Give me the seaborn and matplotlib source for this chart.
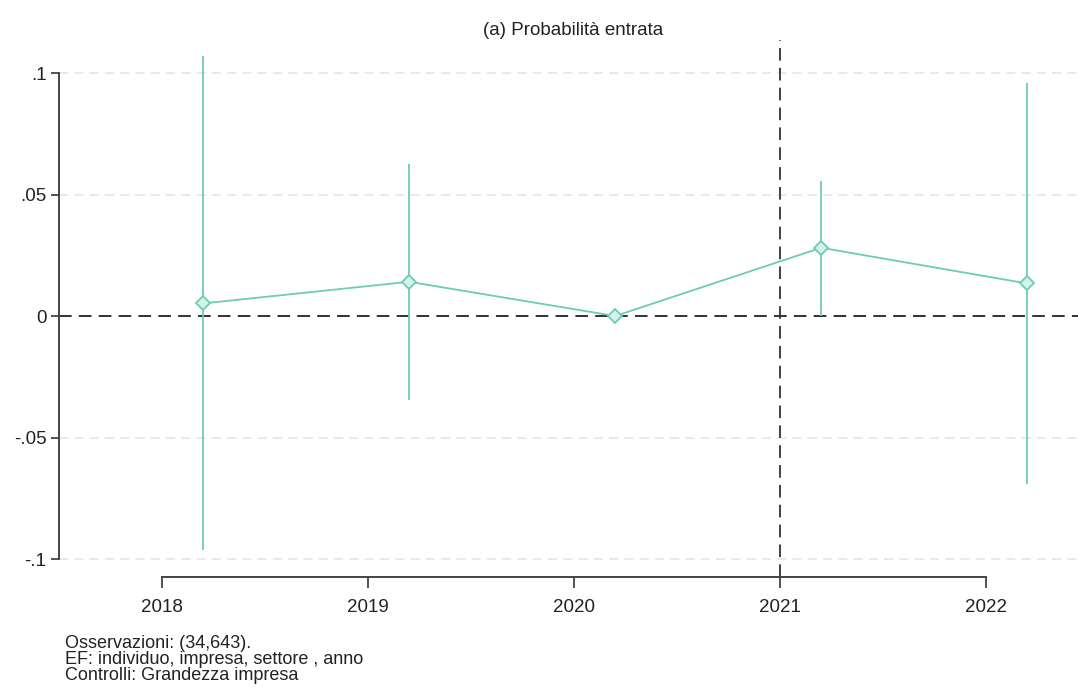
import matplotlib
matplotlib.use("Agg")
import matplotlib.pyplot as plt
import seaborn as sns
import pandas as pd

# Event-study estimates by year (2020 is the reference year)
years = [2018, 2019, 2020, 2021, 2022]
coef = [0.0052, 0.0141, 0.0, 0.0281, 0.0134]
ci_low = [-0.0963, -0.0346, 0.0, 0.0, -0.0691]
ci_high = [0.1071, 0.0627, 0.0, 0.0557, 0.0961]
ytick_vals = [-0.1, -0.05, 0, 0.05, 0.1]
ytick_labels = ["-.1", "-.05", "0", ".05", ".1"]
title = "(a) Probabilità entrata"
notes = ["Osservazioni: (34,643).",
         "EF: individuo, impresa, settore , anno",
         "Controlli: Grandezza impresa"]
event_year = 2021
shift = 0.2

sns.set_theme(style="white")
plt.rcParams["font.family"] = ["Liberation Sans", "DejaVu Sans"]

teal = "#6cccb4"
df = pd.DataFrame({"x": [y + shift for y in years], "coef": coef,
                   "lo": ci_low, "hi": ci_high})

fig = plt.figure(figsize=(10.78, 6.91), dpi=100)
ax = fig.add_axes([59 / 1078, 114 / 691, 1019 / 1078, 537 / 691])

# light dashed grid lines
for v in ytick_vals:
    if v != 0:
        ax.axhline(v, color="#e3e3e3", lw=1.1, ls=(0, (6, 4)), zorder=0)
ax.axhline(0, color="#222222", lw=1.3, ls=(0, (7, 4)), zorder=1)
ax.axvline(event_year, color="#333333", lw=1.3, ls=(0, (7, 4)), zorder=1)

# confidence intervals
ax.vlines(df["x"], df["lo"], df["hi"], color=teal, lw=1.3, zorder=2)
sns.lineplot(data=df, x="x", y="coef", ax=ax, color=teal, lw=1.3,
             marker="D", markersize=7, markerfacecolor="#d4f2ea",
             markeredgecolor=teal, markeredgewidth=1.3, zorder=3)

ax.set_xlim(2017.5, 2022.447)
ax.set_ylim(-0.1074, 0.1136)
ax.set_xticks(years)
ax.set_xticklabels([str(y) for y in years], fontsize=13.5, color="#222222")
ax.set_yticks(ytick_vals)
ax.set_yticklabels(ytick_labels, fontsize=13.5, color="#222222")
ax.set_xlabel("")
ax.set_ylabel("")
ax.tick_params(axis="x", direction="out", length=8, width=1.3,
               color="#444444", pad=8, bottom=True)
ax.tick_params(axis="y", direction="out", length=6, width=1.3,
               color="#444444", pad=3, left=True)

for s in ["top", "right"]:
    ax.spines[s].set_visible(False)
ax.spines["left"].set_bounds(-0.1, 0.1)
ax.spines["bottom"].set_bounds(2018, 2022)
for s in ["left", "bottom"]:
    ax.spines[s].set_color("#444444")
    ax.spines[s].set_linewidth(1.4)

fig.text(573 / 1078, 1 - 35 / 691, title, ha="center", va="baseline",
         fontsize=13.5, color="#222222")
for i, line in enumerate(notes):
    fig.text(65 / 1078, 1 - (648 + 16 * i) / 691, line, ha="left",
             va="baseline", fontsize=13, color="#222222")

fig.savefig("out.png", dpi=100, facecolor="white")
